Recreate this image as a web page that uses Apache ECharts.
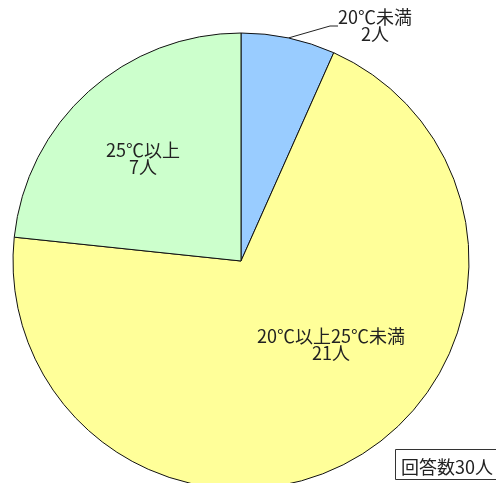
<!DOCTYPE html>
<html>
<head>
<meta charset="utf-8">
<script src="https://cdn.jsdelivr.net/npm/echarts@6/dist/echarts.min.js"></script>
<style>
  html, body { margin: 0; padding: 0; background: #fff; }
  #chart { width: 496px; height: 483px; }
</style>
</head>
<body>
<div id="chart"></div>
<script>
// 気温区分ごとの回答数
const categories = ["20℃未満", "20℃以上25℃未満", "25℃以上"];
const counts = [2, 21, 7];
const totalLabel = "回答数30人";

const sliceColors = ["#99ccff", "#ffff99", "#ccffcc"];
// ラベル位置（画面座標）
const labelPos = [[375, 26], [331, 345], [143, 159]];

const FONT = '"Noto Sans CJK JP", "Noto Sans", sans-serif';

const chart = echarts.init(document.getElementById("chart"));

const pieData = categories.map((name, i) => ({
  name: name,
  value: counts[i],
  itemStyle: { color: sliceColors[i] },
  label: i === 0
    ? { position: "outside", show: true }
    : { position: "inside", show: true },
  labelLine: { show: i === 0 }
}));

chart.setOption({
  animation: false,
  series: [
    {
      type: "pie",
      center: [241, 261],
      radius: 228,
      startAngle: 90,
      clockwise: true,
      avoidLabelOverlap: false,
      itemStyle: { borderColor: "#111", borderWidth: 1 },
      label: {
        formatter: "{b}\n{c}人",
        color: "#222",
        fontFamily: FONT,
        fontSize: 18,
        lineHeight: 17,
        align: "center"
      },
      labelLine: {
        length: 10,
        length2: 8,
        lineStyle: { color: "#222", width: 1 }
      },
      labelLayout: function (params) {
        const p = labelPos[params.dataIndex];
        return { x: p[0], y: p[1], align: "center", verticalAlign: "middle" };
      },
      emphasis: { disabled: true },
      data: pieData
    }
  ],
  graphic: [
    {
      type: "rect",
      left: 395,
      top: 449,
      shape: { width: 104, height: 30 },
      style: { fill: "#fff", stroke: "#333", lineWidth: 1 }
    },
    {
      type: "text",
      x: 401,
      y: 467,
      style: {
        text: totalLabel,
        fill: "#222",
        font: "18px " + FONT,
        verticalAlign: "middle"
      }
    }
  ]
});
</script>
</body>
</html>
